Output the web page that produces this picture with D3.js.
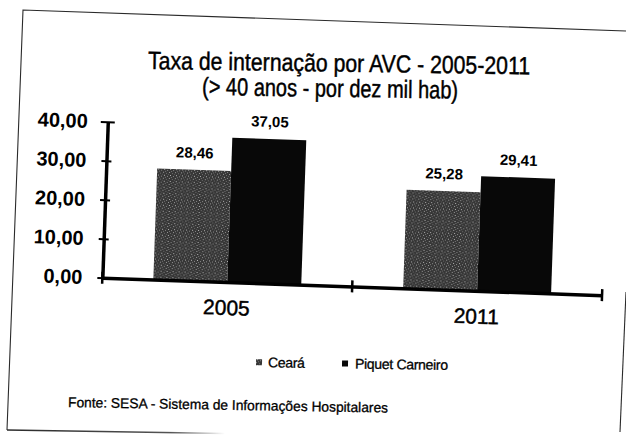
<!DOCTYPE html>
<html>
<head>
<meta charset="utf-8">
<script src="https://cdn.jsdelivr.net/npm/d3@7"></script>
<style>
  body { margin: 0; background: #fff; }
  text { font-family: "Liberation Sans", Arial, sans-serif; fill: #000; }
  .inked { stroke: #000; stroke-width: 0.45px; }
</style>
</head>
<body>
<div id="chart"></div>
<script>
// data
var years = ["2005", "2011"];
var seriesNames = ["Ceará", "Piquet Carneiro"];
var cearaValues = [28.46, 25.28];
var piquetValues = [37.05, 29.41];
var yTicks = [0, 10, 20, 30, 40];
var titleLines = ["Taxa de internação por AVC - 2005-2011", "(> 40 anos - por dez mil hab)"];
var sourceText = "Fonte: SESA - Sistema de Informações Hospitalares";

var svgWidth = 626;
var svgHeight = 440;

// plot area (before the scan tilt is applied)
var plot = { left: 104.5, top: 129, width: 500, height: 156 };

var br = d3.formatLocale({ decimal: ",", thousands: ".", grouping: [3], currency: ["R$", ""] });
var fmt = br.format(".2f");

var svg = d3.select("#chart")
    .append("svg")
    .attr("width", svgWidth)
    .attr("height", svgHeight)
;

svg.append("rect")
    .attr("width", svgWidth)
    .attr("height", svgHeight)
    .attr("fill", "#fff")
;

// speckled grey fill for Ceará, like the photocopy
var defs = svg.append("defs");
var pat = defs.append("pattern")
    .attr("id", "speckle")
    .attr("patternUnits", "userSpaceOnUse")
    .attr("width", 6)
    .attr("height", 6)
;
pat.append("rect").attr("width", 6).attr("height", 6).attr("fill", "#363636");
[[0, 0, "#9a9a9a"], [3, 1, "#6e6e6e"], [1, 3, "#b4b4b4"], [4, 4, "#8a8a8a"], [5, 2, "#5c5c5c"], [2, 5, "#777"]].forEach(function(p) {
    pat.append("rect").attr("x", p[0]).attr("y", p[1]).attr("width", 1).attr("height", 1).attr("fill", p[2]);
});

var fills = { "Ceará": "url(#speckle)", "Piquet Carneiro": "#080808" };

// frame of the scanned box, bottom edge fading out
var fade = defs.append("linearGradient").attr("id", "fade");
fade.append("stop").attr("offset", "0%").attr("stop-color", "#2a2a2a").attr("stop-opacity", 1);
fade.append("stop").attr("offset", "75%").attr("stop-color", "#2a2a2a").attr("stop-opacity", 0.8);
fade.append("stop").attr("offset", "100%").attr("stop-color", "#2a2a2a").attr("stop-opacity", 0);

var frame = svg.append("g").attr("fill", "none").attr("stroke-width", 1.1);
frame.append("path").attr("d", "M626,31 L23,10 L7,430").attr("stroke", "#2a2a2a");
frame.append("path").attr("d", "M7,430 L225,433.5").attr("stroke", "url(#fade)").attr("stroke-width", 1.6);
frame.append("path").attr("d", "M626,292 L620,432").attr("stroke", "#2a2a2a");

// title
svg.append("g")
    .selectAll("text")
    .data(titleLines)
    .enter()
    .append("text")
    .attr("class", "inked")
    .attr("x", function(d, i) { return i === 0 ? 148 : 202; })
    .attr("y", function(d, i) { return i === 0 ? 69 : 95; })
    .attr("transform", function(d, i) { return i === 0 ? "rotate(0.8,148,69)" : "rotate(0.8,202,95)"; })
    .attr("font-size", 25)
    .attr("textLength", function(d, i) { return i === 0 ? 382 : 256; })
    .attr("lengthAdjust", "spacingAndGlyphs")
    .text(function(d) { return d; })
;

// chart group, tilted like the scan
var chartGroup = svg.append("g")
    .attr("transform", "rotate(2,313,220)")
    .append("g")
    .attr("transform", `translate(${plot.left}, ${plot.top})`)
;

var x0 = d3.scaleBand()
    .domain(years)
    .range([0, plot.width])
    .paddingInner(0.408)
    .paddingOuter(0.204)
;

var x1 = d3.scaleBand()
    .domain(seriesNames)
    .range([0, x0.bandwidth()])
;

var yScale = d3.scaleLinear()
    .domain([0, 40])
    .range([plot.height, 0])
;

var rows = years.map(function(yr, i) {
    return { year: yr, values: [
        { name: seriesNames[0], value: cearaValues[i] },
        { name: seriesNames[1], value: piquetValues[i] }
    ] };
});

var yearGroup = chartGroup.selectAll(".year")
    .data(rows)
    .enter()
    .append("g")
    .attr("class", "year")
    .attr("transform", function(d) { return `translate(${x0(d.year)},0)`; })
;

yearGroup.selectAll("rect")
    .data(function(d) { return d.values; })
    .enter()
    .append("rect")
    .attr("x", function(d) { return x1(d.name); })
    .attr("y", function(d) { return yScale(d.value); })
    .attr("width", x1.bandwidth())
    .attr("height", function(d) { return plot.height - yScale(d.value); })
    .attr("fill", function(d) { return fills[d.name]; })
;

yearGroup.selectAll(".val")
    .data(function(d) { return d.values; })
    .enter()
    .append("text")
    .attr("class", "val")
    .attr("x", function(d) { return x1(d.name) + x1.bandwidth() / 2; })
    .attr("y", function(d) { return yScale(d.value) - 12; })
    .attr("text-anchor", "middle")
    .attr("font-size", 15)
    .attr("font-weight", "bold")
    .text(function(d) { return fmt(d.value); })
;

// y axis, ticks crossing the line
chartGroup.append("g")
    .call(d3.axisLeft(yScale).tickValues(yTicks).tickSize(5).tickSizeOuter(0).tickPadding(15).tickFormat(fmt))
    .call(function(g) { g.select(".domain").attr("stroke", "#000").attr("stroke-width", 3.5); })
    .call(function(g) {
        g.selectAll(".tick line")
            .attr("stroke", "#000")
            .attr("stroke-width", 2)
            .attr("x1", function(d) { return d === 40 ? 7 : 5; })
            .attr("x2", function(d) { return d === 40 ? -7 : -5; });
    })
    .call(function(g) {
        g.selectAll(".tick text")
            .attr("font-size", 20)
            .attr("font-weight", "bold")
            .attr("fill", "#000")
            .attr("font-family", "'Liberation Sans', Arial, sans-serif");
    })
;

// x axis: labels at band centres, ticks at band edges
var xAxis = chartGroup.append("g")
    .attr("transform", `translate(0, ${plot.height})`)
    .call(d3.axisBottom(x0).tickSize(0).tickSizeOuter(0).tickPadding(18))
    .call(function(g) { g.select(".domain").attr("stroke", "#000").attr("stroke-width", 3.5); })
    .call(function(g) {
        g.selectAll(".tick text")
            .attr("class", "inked")
            .attr("font-size", 21)
            .attr("fill", "#000")
            .attr("font-family", "'Liberation Sans', Arial, sans-serif");
    })
;

xAxis.selectAll(".edge")
    .data(d3.range(years.length + 1))
    .enter()
    .append("line")
    .attr("class", "edge")
    .attr("x1", function(i) { return i * x0.step(); })
    .attr("x2", function(i) { return i * x0.step(); })
    .attr("y1", -6)
    .attr("y2", 6)
    .attr("stroke", "#000")
    .attr("stroke-width", 2.5)
;

// legend
var legendX = [256, 342];
var legend = svg.append("g")
    .attr("transform", "rotate(0.8,313,365)")
    .selectAll("g")
    .data(seriesNames)
    .enter()
    .append("g")
    .attr("transform", function(d, i) { return `translate(${legendX[i]}, 363)`; })
;

legend.append("rect")
    .attr("x", 0)
    .attr("y", -3)
    .attr("width", 6)
    .attr("height", 6)
    .attr("fill", function(d) { return fills[d]; })
;

legend.append("text")
    .attr("class", "inked")
    .attr("x", function(d, i) { return i === 0 ? 12 : 13; })
    .attr("y", 5)
    .attr("font-size", 14)
    .attr("letter-spacing", -0.3)
    .style("stroke-width", "0.3px")
    .text(function(d) { return d; })
;

// source note
svg.append("text")
    .attr("class", "inked")
    .attr("x", 68)
    .attr("y", 407)
    .attr("transform", "rotate(1,68,407)")
    .attr("font-size", 14)
    .attr("textLength", 320)
    .attr("lengthAdjust", "spacingAndGlyphs")
    .style("stroke-width", "0.3px")
    .text(sourceText)
;
</script>
</body>
</html>
